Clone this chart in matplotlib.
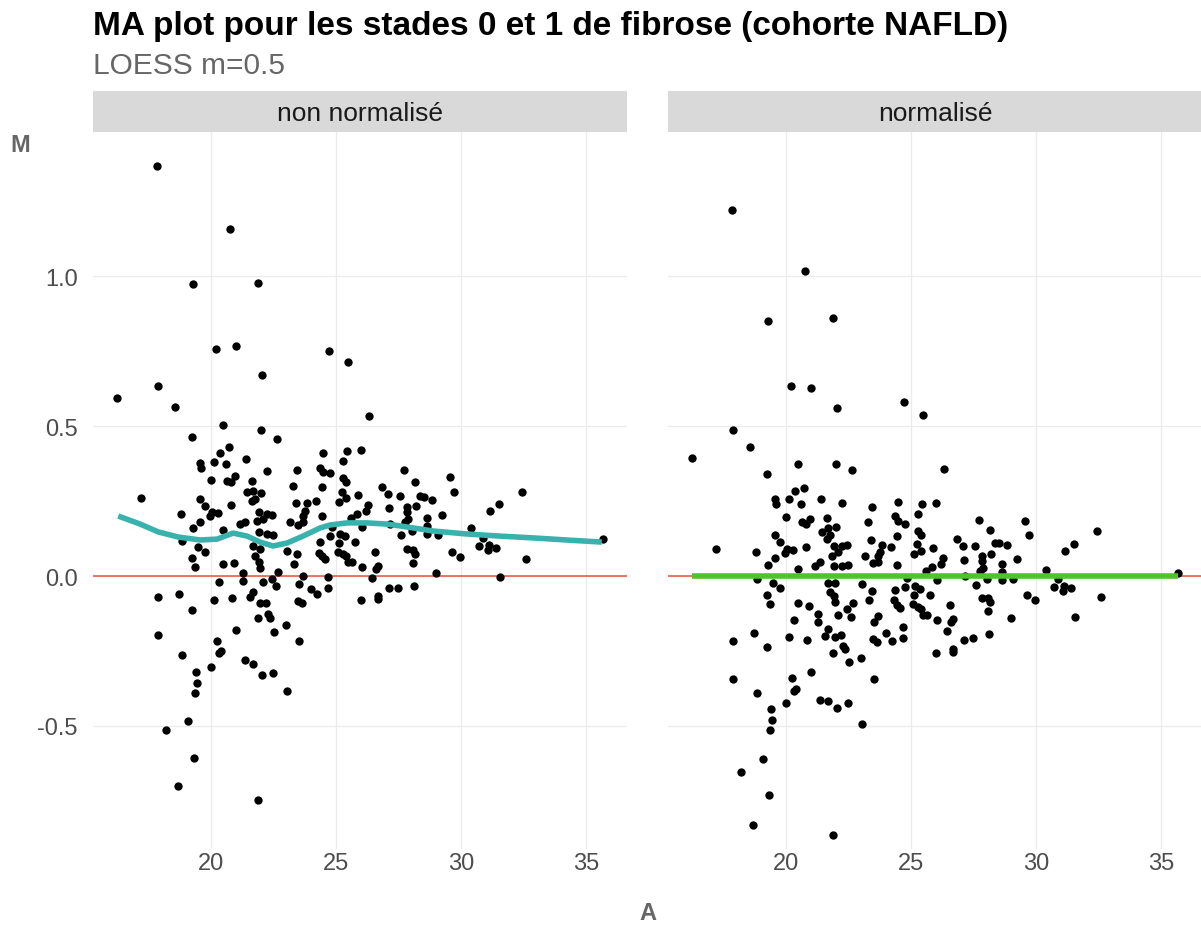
import matplotlib
matplotlib.use("Agg")
import matplotlib.pyplot as plt
import numpy as np

plt.rcParams["font.family"] = ["Liberation Sans", "DejaVu Sans"]

# A (mean log intensity) and M (log ratio)
A = [
    17.84, 20.76, 19.28, 20.20, 21.00, 17.88, 16.24, 21.88, 24.72, 25.48, 22.04,
    18.56, 19.24, 19.56, 19.60, 17.20, 19.56, 18.80, 19.28, 19.56, 18.84, 19.48, 19.24,
    20.48, 22.00, 20.72, 20.36, 20.12, 20.60, 21.40, 20.00, 20.64, 20.80, 20.96, 21.64,
    21.44, 21.68, 21.76, 21.64, 19.76, 20.80, 20.04, 20.28, 19.96, 21.92, 21.84, 21.16,
    21.36, 20.48, 21.92, 21.68, 21.96, 19.76, 21.76,
    22.64, 24.48, 24.36, 24.48, 22.24, 23.44, 23.28, 24.44, 22.00, 23.40, 23.84, 24.20,
    23.76, 24.44, 23.68, 22.24, 22.44, 22.08, 23.16, 23.48, 23.68, 22.24, 22.48, 24.36,
    23.04, 23.44, 24.32, 24.44,
    26.32, 25.44, 26.00, 25.28, 24.76, 25.28, 25.40, 26.84, 25.24, 27.08, 25.12, 25.40,
    25.88, 27.56, 26.28, 27.12, 26.20, 25.84, 25.60, 26.04, 27.16, 24.84, 24.76, 25.16,
    25.36, 27.60, 25.12, 25.76, 25.08, 25.28, 25.40, 26.56,
    27.72, 28.16, 29.56, 28.36, 28.52, 28.84, 29.72, 32.44, 31.52, 31.16, 27.84, 28.20,
    27.84, 29.24, 28.64, 27.88, 27.76, 28.64, 28.04, 28.64, 29.08, 30.40, 30.88, 30.72,
    31.12, 31.40, 31.08, 27.84, 28.08, 28.16, 29.64, 29.96, 35.68, 32.60,
    19.36, 17.88, 18.72, 19.24, 17.88, 18.84, 19.40, 19.44, 19.36, 19.08, 18.20, 19.32,
    18.68,
    20.48, 20.92, 21.92, 21.28, 20.32, 21.28, 21.68, 21.56, 20.12, 20.84, 21.88, 21.00,
    20.24, 20.32, 20.40, 20.00, 21.36, 21.68, 22.04, 21.88, 21.96, 22.20,
    23.32, 24.56, 22.68, 22.44, 22.08, 22.60, 23.68, 24.68, 23.52, 24.00, 24.24, 24.68,
    23.48, 23.64, 22.28, 22.36, 23.00, 22.52, 23.52, 22.48, 23.04, 21.96,
    25.48, 25.64, 26.04, 26.68, 26.60, 28.08, 26.44, 29.00, 31.56, 27.12, 27.48, 28.12,
    26.00, 26.68, 26.68,
]
M = [
    1.367, 1.157, 0.973, 0.757, 0.767, 0.633, 0.593, 0.977, 0.750, 0.713, 0.670,
    0.563, 0.463, 0.377, 0.360, 0.260, 0.257, 0.207, 0.160, 0.180, 0.117, 0.097, 0.060,
    0.503, 0.487, 0.430, 0.410, 0.380, 0.373, 0.390, 0.320, 0.317, 0.313, 0.333, 0.317,
    0.280, 0.283, 0.257, 0.250, 0.233, 0.237, 0.213, 0.210, 0.200, 0.213, 0.183, 0.173,
    0.180, 0.153, 0.147, 0.100, 0.090, 0.080, 0.067,
    0.457, 0.410, 0.360, 0.347, 0.350, 0.353, 0.300, 0.297, 0.277, 0.243, 0.243, 0.250,
    0.217, 0.200, 0.200, 0.207, 0.203, 0.190, 0.180, 0.170, 0.180, 0.140, 0.137, 0.113,
    0.083, 0.073, 0.077, 0.067,
    0.533, 0.417, 0.420, 0.383, 0.343, 0.327, 0.313, 0.297, 0.280, 0.273, 0.247, 0.260,
    0.270, 0.267, 0.237, 0.227, 0.217, 0.207, 0.193, 0.163, 0.173, 0.163, 0.133, 0.140,
    0.133, 0.137, 0.110, 0.113, 0.080, 0.073, 0.067, 0.080,
    0.353, 0.313, 0.330, 0.267, 0.263, 0.253, 0.280, 0.280, 0.240, 0.217, 0.230, 0.233,
    0.213, 0.203, 0.193, 0.190, 0.180, 0.167, 0.150, 0.140, 0.137, 0.160, 0.127, 0.100,
    0.103, 0.093, 0.087, 0.090, 0.087, 0.073, 0.080, 0.063, 0.123, 0.057,
    0.030, -0.070, -0.060, -0.113, -0.197, -0.263, -0.320, -0.357, -0.390, -0.483, -0.513,
    -0.607, -0.700,
    0.040, 0.043, 0.047, 0.010, -0.020, -0.017, -0.053, -0.070, -0.080, -0.073, -0.140,
    -0.180, -0.217, -0.257, -0.250, -0.303, -0.280, -0.293, -0.330, -0.747, -0.090, -0.090,
    0.040, 0.057, 0.013, -0.010, -0.020, -0.033, 0.000, -0.003, -0.027, -0.043, -0.060,
    -0.040, -0.083, -0.090, -0.127, -0.140, -0.163, -0.187, -0.217, -0.323, -0.383, 0.027,
    0.047, 0.047, 0.030, 0.033, 0.023, 0.043, -0.007, 0.010, -0.003, -0.040, -0.040,
    -0.033, -0.080, -0.067, -0.077,
]

# LOESS fit on the raw data (teal curve)
loess_A = [16.28, 17.16, 17.88, 18.68, 19.56, 20.24, 20.88, 21.44, 21.96, 22.48, 23.04,
           23.68, 24.36, 24.76, 25.44, 26.24, 27.04, 27.56, 28.88, 30.24, 31.56, 32.88,
           34.24, 35.64]
loess_M = [0.200, 0.173, 0.147, 0.130, 0.120, 0.123, 0.143, 0.133, 0.113, 0.100, 0.110,
           0.133, 0.160, 0.170, 0.177, 0.177, 0.173, 0.167, 0.150, 0.140, 0.133, 0.127,
           0.120, 0.113]

# LOESS fit after normalisation (green curve, flat)
loess2_A = [16.24, 35.68]
loess2_M = [0.0, 0.0]

panels = ["non normalisé", "normalisé"]

A = np.asarray(A)
M = np.asarray(M)
# normalised M = raw M minus the loess trend
M_norm = M - np.interp(A, loess_A, loess_M)

W, H = 1201, 929
fig = plt.figure(figsize=(W / 100, H / 100), dpi=100)

GRID = "#ebebeb"
TXT = "#4d4d4d"

ax_left = [93, 668]
ax_w = 534
ax_top, ax_bot = 133, 850

for i, name in enumerate(panels):
    x0 = ax_left[i]
    ax = fig.add_axes([x0 / W, 1 - ax_bot / H, ax_w / W, (ax_bot - ax_top) / H])
    ax.set_xlim(15.27, 36.65)
    ax.set_ylim(-0.91, 1.48)
    ax.set_xticks([20, 25, 30, 35])
    ax.set_yticks([-0.5, 0.0, 0.5, 1.0])
    ax.grid(True, color=GRID, lw=0.9)
    ax.set_axisbelow(True)
    for s in ax.spines.values():
        s.set_visible(False)
    ax.tick_params(axis="x", length=0, labelsize=17, labelcolor=TXT, pad=2)
    ax.tick_params(axis="y", length=0, labelsize=17, labelcolor=TXT, pad=11)
    if i == 0:
        ax.set_yticklabels(["-0.5", "0.0", "0.5", "1.0"])
        ax.scatter(A, M, s=36, color="black", lw=0, zorder=3)
        ax.axhline(0, color="#e8503a", lw=1.1, zorder=2)
        ax.plot(loess_A, loess_M, color="#38b2ac", lw=4.0, zorder=4,
                solid_capstyle="butt")
    else:
        ax.set_yticklabels([])
        ax.scatter(A, M_norm, s=36, color="black", lw=0, zorder=3)
        ax.axhline(0, color="#e8503a", lw=1.1, zorder=2)
        ax.plot(loess2_A, loess2_M, color="#4cc42a", lw=4.0, zorder=4,
                solid_capstyle="butt")

    sax = fig.add_axes([x0 / W, 1 - ax_top / H, ax_w / W, 41 / H])
    sax.set_facecolor("#d9d9d9")
    sax.set_xticks([])
    sax.set_yticks([])
    for s in sax.spines.values():
        s.set_visible(False)
    sax.text(0.5, 0.47, name, ha="center", va="center", fontsize=19,
             color="#1a1a1a", transform=sax.transAxes)

fig.text(93 / W, 1 - 27 / H, "MA plot pour les stades 0 et 1 de fibrose (cohorte NAFLD)",
         fontsize=24, fontweight="bold", ha="left", va="center", color="black")
fig.text(93 / W, 1 - 66 / H, "LOESS m=0.5", fontsize=21.5, ha="left", va="center",
         color="#666666")
fig.text(20 / W, 1 - 145 / H, "M", fontsize=17, fontweight="bold", ha="center",
         va="center", color="#666666")
fig.text(648 / W, 1 - 925 / H, "A", fontsize=17, fontweight="bold", ha="center",
         va="bottom", color="#666666")

fig.savefig("out.png", dpi=100)
